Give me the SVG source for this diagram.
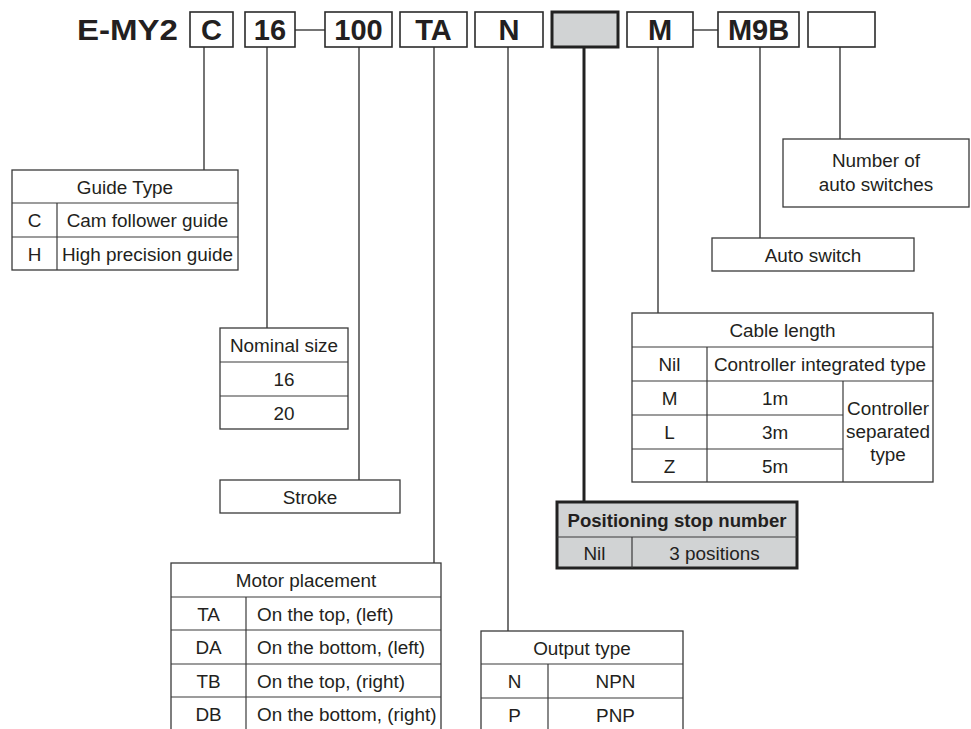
<svg xmlns="http://www.w3.org/2000/svg" width="971" height="729" viewBox="0 0 971 729">
<style>
.bx{fill:#fff;stroke:#2b2b2b;stroke-width:1.6}
.tb{fill:#fff;stroke:#3a3a3a;stroke-width:1.3}
.gl{stroke:#3a3a3a;stroke-width:1.2;fill:none}
.cn{stroke:#3a3a3a;stroke-width:1.4;fill:none}
.code{font-family:"Liberation Sans",Arial,sans-serif;font-weight:bold;font-size:29px;fill:#231f20;text-anchor:middle}
.t{font-family:"Liberation Sans",Arial,sans-serif;font-size:18.9px;fill:#231f20;text-anchor:middle}
.tl{font-family:"Liberation Sans",Arial,sans-serif;font-size:18.9px;fill:#231f20}
.tbold{font-family:"Liberation Sans",Arial,sans-serif;font-size:18.6px;font-weight:bold;fill:#231f20;text-anchor:middle}
</style>
<rect width="971" height="729" fill="#fff"/>

<g id="connectors">
<line class="cn" x1="295" y1="30" x2="325" y2="30"/>
<line class="cn" x1="693" y1="30" x2="718" y2="30"/>
<line class="cn" x1="204" y1="47" x2="204" y2="170"/>
<line class="cn" x1="267" y1="47" x2="267" y2="328"/>
<line class="cn" x1="359" y1="47" x2="359" y2="480"/>
<line class="cn" x1="434" y1="47" x2="434" y2="563"/>
<line class="cn" x1="508" y1="47" x2="508" y2="631"/>
<line x1="584" y1="47" x2="584" y2="502" stroke="#222" stroke-width="3"/>
<line class="cn" x1="658" y1="47" x2="658" y2="313"/>
<line class="cn" x1="760" y1="47" x2="760" y2="238"/>
<line class="cn" x1="840" y1="47" x2="840" y2="139"/>
</g>

<g id="model">
<text x="77" y="40" font-family="Liberation Sans,Arial,sans-serif" font-weight="bold" font-size="30" fill="#231f20" textLength="101" lengthAdjust="spacingAndGlyphs">E-MY2</text>
</g>
<g id="code-C"><rect class="bx" x="190" y="12" width="43" height="35"/><text class="code" x="211.5" y="40">C</text></g>
<g id="code-16"><rect class="bx" x="245" y="12" width="50" height="35"/><text class="code" x="270" y="40">16</text></g>
<g id="code-100"><rect class="bx" x="325" y="12" width="67" height="35"/><text class="code" x="358.5" y="40">100</text></g>
<g id="code-TA"><rect class="bx" x="400" y="12" width="67" height="35"/><text class="code" x="433.5" y="40">TA</text></g>
<g id="code-N"><rect class="bx" x="475" y="12" width="68" height="35"/><text class="code" x="509" y="40">N</text></g>
<g id="code-pos"><rect x="552" y="12" width="66" height="35" fill="#d1d3d4" stroke="#222" stroke-width="3"/></g>
<g id="code-M"><rect class="bx" x="627" y="12" width="66" height="35"/><text class="code" x="660" y="40">M</text></g>
<g id="code-M9B"><rect class="bx" x="718" y="12" width="81" height="35"/><text class="code" x="758.5" y="40">M9B</text></g>
<g id="code-num"><rect class="bx" x="808" y="12" width="67" height="35"/></g>

<g id="guide-type">
<rect class="tb" x="12" y="170" width="226" height="100"/>
<line class="gl" x1="12" y1="203" x2="238" y2="203"/>
<line class="gl" x1="12" y1="237" x2="238" y2="237"/>
<line class="gl" x1="57" y1="203" x2="57" y2="270"/>
<text class="t" x="125" y="193.5">Guide Type</text>
<text class="t" x="34.5" y="227">C</text>
<text class="t" x="147.5" y="227">Cam follower guide</text>
<text class="t" x="34.5" y="260.5">H</text>
<text class="t" x="147.5" y="260.5">High precision guide</text>
</g>

<g id="nominal-size">
<rect class="tb" x="220" y="328" width="128" height="101"/>
<line class="gl" x1="220" y1="362" x2="348" y2="362"/>
<line class="gl" x1="220" y1="396" x2="348" y2="396"/>
<text class="t" x="284" y="352">Nominal size</text>
<text class="t" x="284" y="386">16</text>
<text class="t" x="284" y="419.5">20</text>
</g>

<g id="stroke">
<rect class="tb" x="220" y="480" width="180" height="33"/>
<text class="t" x="310" y="503.5">Stroke</text>
</g>

<g id="motor-placement">
<rect class="tb" x="171" y="563" width="270" height="170"/>
<line class="gl" x1="171" y1="597" x2="441" y2="597"/>
<line class="gl" x1="171" y1="630" x2="441" y2="630"/>
<line class="gl" x1="171" y1="664" x2="441" y2="664"/>
<line class="gl" x1="171" y1="697" x2="441" y2="697"/>
<line class="gl" x1="246" y1="597" x2="246" y2="733"/>
<text class="t" x="306" y="587">Motor placement</text>
<text class="t" x="208.5" y="620.5">TA</text>
<text class="tl" x="257" y="620.5">On the top, (left)</text>
<text class="t" x="208.5" y="654">DA</text>
<text class="tl" x="257" y="654">On the bottom, (left)</text>
<text class="t" x="208.5" y="687.5">TB</text>
<text class="tl" x="257" y="687.5">On the top, (right)</text>
<text class="t" x="208.5" y="721">DB</text>
<text class="tl" x="257" y="721">On the bottom, (right)</text>
</g>

<g id="output-type">
<rect class="tb" x="481" y="631" width="202" height="102"/>
<line class="gl" x1="481" y1="664" x2="683" y2="664"/>
<line class="gl" x1="481" y1="698" x2="683" y2="698"/>
<line class="gl" x1="548" y1="664" x2="548" y2="733"/>
<text class="t" x="582" y="654.5">Output type</text>
<text class="t" x="514.5" y="688">N</text>
<text class="t" x="615.5" y="688">NPN</text>
<text class="t" x="514.5" y="721.5">P</text>
<text class="t" x="615.5" y="721.5">PNP</text>
</g>

<g id="cable-length">
<rect class="tb" x="632" y="313" width="301" height="169"/>
<line class="gl" x1="632" y1="347" x2="933" y2="347"/>
<line class="gl" x1="632" y1="381" x2="933" y2="381"/>
<line class="gl" x1="632" y1="415" x2="843" y2="415"/>
<line class="gl" x1="632" y1="449" x2="843" y2="449"/>
<line class="gl" x1="707" y1="347" x2="707" y2="482"/>
<line class="gl" x1="843" y1="381" x2="843" y2="482"/>
<text class="t" x="782.5" y="337">Cable length</text>
<text class="t" x="669.5" y="371">Nil</text>
<text class="t" x="820" y="371">Controller integrated type</text>
<text class="t" x="669.5" y="405">M</text>
<text class="t" x="775" y="405">1m</text>
<text class="t" x="669.5" y="439">L</text>
<text class="t" x="775" y="439">3m</text>
<text class="t" x="669.5" y="472.5">Z</text>
<text class="t" x="775" y="472.5">5m</text>
<text class="t" x="888" y="415">Controller</text>
<text class="t" x="888" y="438">separated</text>
<text class="t" x="888" y="461">type</text>
</g>

<g id="positioning-stop">
<rect x="557" y="502" width="240" height="66" fill="#d1d3d4" stroke="#222" stroke-width="3"/>
<line class="gl" x1="557" y1="537" x2="797" y2="537"/>
<line class="gl" x1="632" y1="537" x2="632" y2="568"/>
<text class="tbold" x="677" y="526.5">Positioning stop number</text>
<text class="t" x="594.5" y="559.5">Nil</text>
<text class="t" x="714.5" y="559.5">3 positions</text>
</g>

<g id="auto-switch">
<rect class="tb" x="712" y="238" width="202" height="33"/>
<text class="t" x="813" y="261.5">Auto switch</text>
</g>

<g id="number-of-switches">
<rect class="tb" x="783" y="139" width="186" height="68"/>
<text class="t" x="876" y="167">Number of</text>
<text class="t" x="876" y="190.5">auto switches</text>
</g>
</svg>
